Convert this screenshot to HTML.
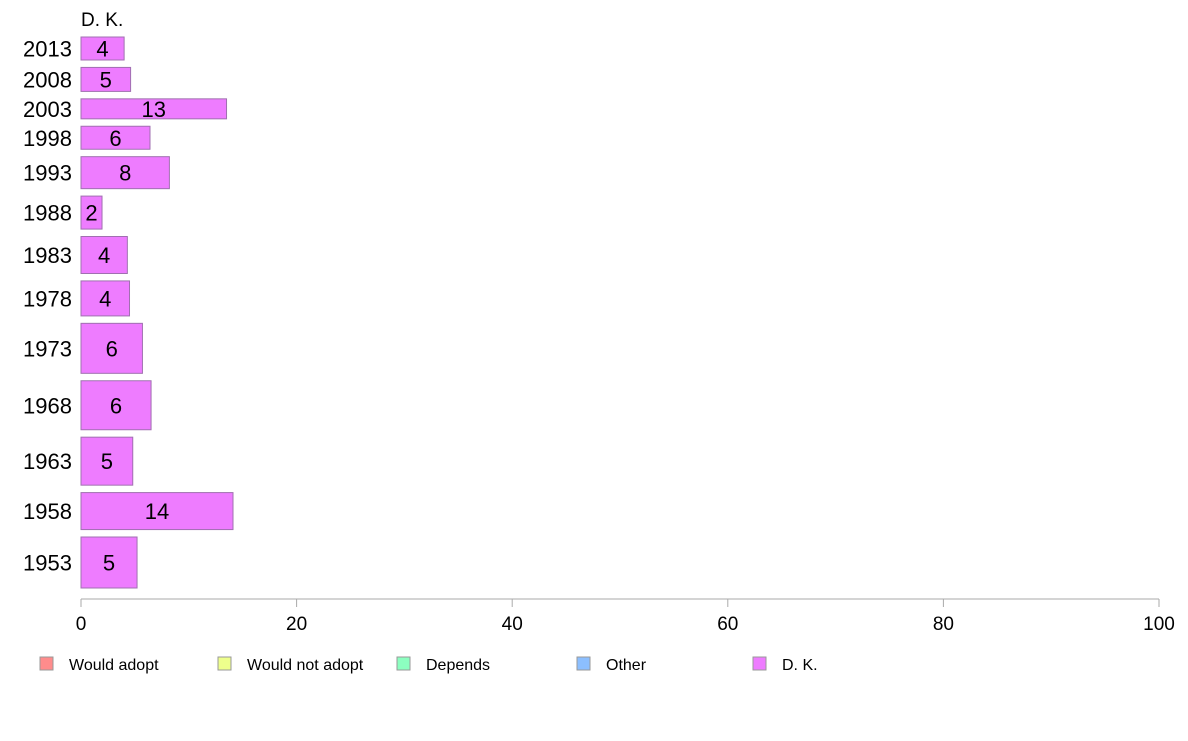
<!DOCTYPE html>
<html><head><meta charset="utf-8"><style>
body{margin:0;background:#fff;}
svg text{font-family:"Liberation Sans",Arial,sans-serif;}
</style></head><body>
<svg id="chart" width="1188" height="736" xmlns="http://www.w3.org/2000/svg">
<text x="81" y="26" font-size="19">D. K.</text>
<g id="bars"></g>
<g id="axis"></g>
<g id="legend"></g>
</svg>
<script>
const years = ["2013","2008","2003","1998","1993","1988","1983","1978","1973","1968","1963","1958","1953"];
const values = [4.0,4.6,13.5,6.4,8.2,1.95,4.3,4.5,5.7,6.5,4.8,14.1,5.2];
const labels = ["4","5","13","6","8","2","4","4","6","6","5","14","5"];
const weights = [23,24,20,23,32,33,37,35,50,49,48,37,51];
const ticks = [0,20,40,60,80,100];
const legendNames = ["Would adopt","Would not adopt","Depends","Other","D. K."];
const legendColors = ["#ff8c8c","#eeff8c","#8cffc0","#8cbfff","#ee7cff"];

const NS="http://www.w3.org/2000/svg";
const x0=81,x1=1159;
const xs=v=>x0+(v/100)*(x1-x0);
const top0=37,bottom0=588;
const totalW=weights.reduce((a,b)=>a+b,0);
const gap=(bottom0-top0-totalW)/(years.length-1);
function mk(t,a,p){const e=document.createElementNS(NS,t);for(const k in a)e.setAttribute(k,a[k]);p.appendChild(e);return e;}
const bars=document.getElementById('bars');
let y=top0;
years.forEach((yr,i)=>{
  const h=weights[i];
  const r=mk('rect',{x:x0,y:y,width:xs(values[i])-x0,height:h,fill:'#ee7cff',stroke:'#a070b0','stroke-width':1},bars);
  
  
  const cy=y+h/2;
  const t=mk('text',{x:(x0+xs(values[i]))/2,y:cy+8,'font-size':22,'text-anchor':'middle'},bars);
  t.textContent=labels[i];
  
  
  const yl=mk('text',{x:72,y:cy+8,'font-size':22,'text-anchor':'end'},bars);
  yl.textContent=yr;
  
  
  y+=h+gap;
});
const ax=document.getElementById('axis');
mk('line',{x1:x0,x2:x1,y1:599,y2:599,stroke:'#aaa','stroke-width':1},ax);
ticks.forEach(v=>{
  mk('line',{x1:xs(v),x2:xs(v),y1:599,y2:607,stroke:'#aaa'},ax);
  const t=mk('text',{x:xs(v),y:630,'font-size':19,'text-anchor':'middle'},ax);
  t.textContent=v;
  
  
});
const lg=document.getElementById('legend');
const lx=[40,218,397,577,753];
legendNames.forEach((n,i)=>{
  const r=mk('rect',{x:lx[i],y:657,width:13,height:13,fill:legendColors[i],stroke:'#999'},lg);
  
  
  const t=mk('text',{x:lx[i]+29,y:670,'font-size':16},lg);
  t.textContent=n;
  
  
});
</script>
</body></html>
